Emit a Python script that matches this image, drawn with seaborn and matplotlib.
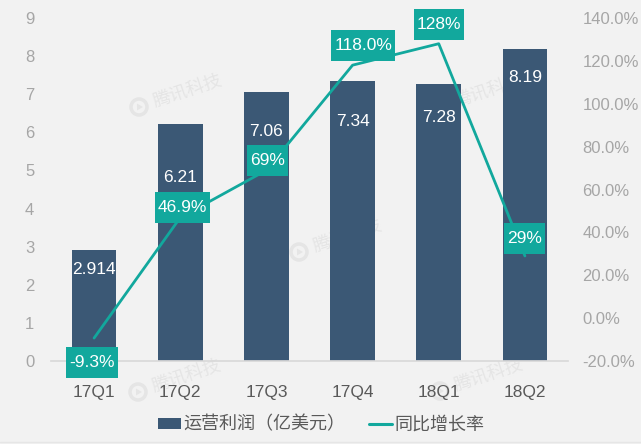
import pandas as pd
import seaborn as sns
import matplotlib.pyplot as plt
from matplotlib.lines import Line2D
from matplotlib.path import Path
from matplotlib.patches import Patch, Circle, RegularPolygon
from matplotlib.transforms import IdentityTransform

quarters = ['17Q1', '17Q2', '17Q3', '17Q4', '18Q1', '18Q2']
profit = [2.914, 6.21, 7.06, 7.34, 7.28, 8.19]
growth = [-9.3, 46.9, 69, 118, 128, 29]
profit_labels = ['2.914', '6.21', '7.06', '7.34', '7.28', '8.19']
growth_labels = ['-9.3%', '46.9%', '69%', '118.0%', '128%', '29%']
left_ticks = list(range(0, 10))
right_ticks = list(range(-20, 141, 20))

BG = '#f2f2f2'
BAR = '#3b5875'
TEAL = '#12a89d'
MARK = '#e5e5e5'
W, H = 641, 444


def label_box(x0, y0, width, height, mutation_size):
    # narrow at the sides, tall above and below the text (px)
    yc = y0 + height / 2
    return Path([(x0 - 3, yc - 15.5), (x0 + width + 3, yc - 15.5), (x0 + width + 3, yc + 15.5),
                 (x0 - 3, yc + 15.5), (x0 - 3, yc - 15.5)], closed=True)


sns.set_theme(style='white')
plt.rcParams['font.family'] = ['Liberation Sans', 'Noto Sans CJK SC', 'DejaVu Sans']
plt.rcParams['font.size'] = 13

df = pd.DataFrame({'quarter': quarters, 'profit': profit, 'growth': growth})

fig = plt.figure(figsize=(W / 100, H / 100), dpi=100, facecolor=BG)
ax = fig.add_axes([51 / W, (H - 361) / H, 517 / W, 343 / H])
ax.patch.set_alpha(0)

sns.barplot(data=df, x='quarter', y='profit', color=BAR, saturation=1, width=0.52, linewidth=0, ax=ax, zorder=2)
ax.set_xlim(-0.5, 5.5)
ax.set_ylim(0, 9)
ax.set_yticks(left_ticks)
ax.set_xlabel('')
ax.set_ylabel('')
ax.tick_params(axis='x', length=0, pad=17, labelsize=12.5, labelcolor='#595959')
ax.tick_params(axis='y', length=0, pad=12, labelsize=12, labelcolor='#a6a6a6')
for side in ['top', 'left', 'right']:
    ax.spines[side].set_visible(False)
ax.spines['bottom'].set_color('#d9d9d9')

# bar labels sit at hand-placed distances below each bar top (px)
bar_offsets = [-20, -53, -40, -40, -34, -29]
for i, (val, lab) in enumerate(zip(profit, profit_labels)):
    ax.annotate(lab, (i, val), xytext=(0, bar_offsets[i] * 0.72), textcoords='offset points',
                ha='center', va='center', color='white', fontsize=12.5, zorder=5)

ax2 = ax.twinx()
ax2.patch.set_alpha(0)
sns.lineplot(data=df, x='quarter', y='growth', color=TEAL, linewidth=2, sort=False, ax=ax2, zorder=3)
ax2.set_ylim(-20, 140)
ax2.set_yticks(right_ticks)
ax2.set_yticklabels([f'{t:.1f}%' for t in right_ticks])
ax2.set_ylabel('')
ax2.tick_params(axis='y', length=0, pad=10.5, labelsize=12, labelcolor='#a6a6a6')
for side in ['top', 'left', 'right', 'bottom']:
    ax2.spines[side].set_visible(False)

# teal label boxes, offset from the line points (px)
box_offsets = [(-2, -24.5), (2.5, 10.5), (1, 9.5), (10.5, 19.5), (0, 19), (0, 17.5)]
for i, (val, lab) in enumerate(zip(growth, growth_labels)):
    dx, dy = box_offsets[i]
    ax2.annotate(lab, (i, val), xytext=(dx * 0.72, dy * 0.72), textcoords='offset points',
                 ha='center', va='center', color='white', fontsize=12.5, zorder=6,
                 bbox=dict(boxstyle=label_box, fc=TEAL, ec='none'))

# faint watermarks behind the chart
marks = [(177, 97), (337, 242), (176, 382), (478, 381), (478, 97)]
for x, y in marks:
    fig.text((x + 11) / W, 1 - (y - 5) / H, '腾讯科技', color=MARK, fontsize=13, rotation=18,
             rotation_mode='anchor', ha='center', va='center', zorder=-1)
    cx, cy = x - 38, H - (y + 10)
    fig.add_artist(Circle((cx, cy), 8, transform=IdentityTransform(), fc='none', ec=MARK, lw=2.5, zorder=-1))
    fig.add_artist(RegularPolygon((cx, cy), 3, radius=4, orientation=-1.57, transform=IdentityTransform(),
                                  fc=MARK, ec='none', zorder=-1))

# thin stray rule along the bottom of the picture
fig.add_artist(Line2D([0, 1], [1 - 442 / H, 1 - 442 / H], color='#e6e6e6', lw=1))

handles = [Patch(fc=BAR, ec='none'), Line2D([0], [0], color=TEAL, lw=2.2)]
fig.legend(handles, ['运营利润（亿美元）', '同比增长率'], loc='center', bbox_to_anchor=(321 / W, 1 - 425 / H),
           ncol=2, frameon=False, fontsize=13, labelcolor='#595959', handlelength=1.3,
           handleheight=0.55, handletextpad=0.12, columnspacing=1.3, borderpad=0)

fig.savefig('out.png', dpi=100, facecolor=BG)
